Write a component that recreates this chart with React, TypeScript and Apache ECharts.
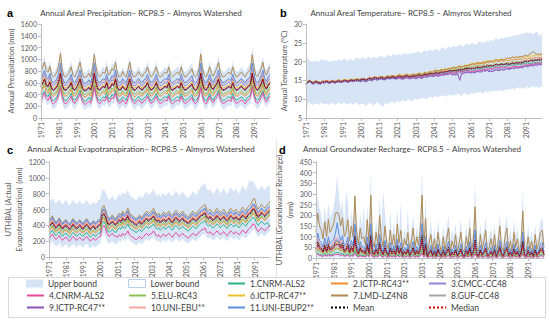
import React, { useEffect, useRef } from "react";
import * as echarts from "echarts";

// ---------- categories ----------
const YEARS: string[] = [];
for (let y = 1971; y <= 2100; y++) YEARS.push(String(y));

const MODEL_NAMES = [
  "1.CNRM-ALS2", "2.ICTP-RC43**", "3.CMCC-CC48", "4.CNRM-AL52", "5.ELU-RC43",
  "6.ICTP-RC47**", "7.LMD-LZ4N8", "8.GUF-CC48", "9.ICTP-RC47**", "10.UNI-EBU**", "11.UNI-EBUP2**",
];

// ---------- (a) precipitation, mm ----------
const PRECIP_UPPER = [
  880,960,1060,900,860,980,820,780,800,880, 990,1210,900,800,770,830,880,960,810,790,
  840,930,1050,870,790,760,800,850,780,930, 1190,960,810,770,830,870,840,970,810,840,
  930,900,1040,840,780,800,870,810,790,900, 1050,860,800,780,820,880,810,770,850,870,
  960,840,790,810,880,960,820,780,800,840, 870,840,950,810,790,820,840,880,820,960,
  840,780,800,840,880,930,810,790,820,930, 1200,930,820,780,840,970,840,800,870,930,
  1060,870,800,780,810,850,870,830,960,840, 790,800,840,870,820,780,840,880,930,1210,
  960,810,790,840,930,1040,870,820,900,950,
];
const PRECIP_LOWER = [
  220,270,330,240,210,290,180,150,170,220, 300,420,240,160,150,190,220,280,170,150,
  200,260,340,220,150,140,170,200,150,260, 420,280,170,150,190,220,200,280,180,190,
  260,240,340,200,150,170,220,180,150,240, 340,220,170,140,190,220,170,150,200,220,
  280,200,150,180,220,280,190,150,170,200, 220,200,280,170,140,180,200,220,190,280,
  200,150,170,200,220,260,180,150,180,260, 410,260,180,150,200,280,200,170,220,260,
  340,220,170,140,180,200,220,190,280,200, 150,170,200,220,180,150,200,220,260,420,
  280,180,150,200,260,340,220,180,240,280,
];
const PRECIP_M1 = [
  360,420,460,380,370,430,320,290,320,360, 440,550,380,310,290,330,370,420,320,300,
  340,400,470,350,300,280,310,350,300,400, 560,410,320,290,330,360,340,430,320,340,
  400,370,470,340,290,310,360,330,300,380, 470,350,310,290,330,370,320,300,340,360,
  420,340,290,320,360,420,330,300,310,350, 360,340,410,320,290,320,340,370,330,420,
  340,300,310,340,360,400,310,300,320,390, 550,400,320,290,340,420,340,300,360,400,
  470,360,310,290,320,350,360,330,420,340, 300,320,340,360,320,290,340,360,400,560,
  410,320,300,340,400,470,360,320,380,420,
];
const PRECIP_M2 = [
  430,500,550,450,420,500,390,370,400,430, 510,640,450,380,370,400,430,490,390,370,
  410,470,560,430,370,360,380,410,370,470, 650,490,390,370,400,440,410,490,390,410,
  470,450,540,410,370,380,430,390,370,450, 550,430,380,360,400,430,390,370,420,430,
  490,410,370,390,430,500,400,370,380,410, 430,410,490,390,360,390,410,440,400,490,
  410,370,380,410,430,470,390,370,390,470, 640,470,390,370,410,490,410,380,430,470,
  550,430,380,370,390,410,430,400,490,410, 370,380,410,430,390,370,410,430,470,650,
  490,390,370,410,470,550,430,390,450,490,
];
const PRECIP_M3 = [
  620,670,740,630,600,690,570,550,580,610, 700,830,630,560,550,590,610,680,570,550,
  590,660,730,610,550,540,570,590,550,650, 820,670,570,550,590,610,590,680,570,600,
  650,630,740,590,550,560,610,580,550,630, 740,610,560,550,580,620,570,550,590,610,
  670,590,550,570,610,680,580,550,560,590, 610,590,670,570,550,580,590,620,580,670,
  590,550,560,590,610,650,570,550,570,660, 840,650,570,550,590,670,590,560,610,650,
  730,610,560,550,570,600,610,580,670,590, 550,560,590,620,570,550,590,610,650,830,
  670,570,550,590,650,730,610,570,630,670,
];
const PRECIP_M4 = [
  310,360,430,330,300,380,270,240,270,310, 390,520,330,260,240,280,310,370,270,250,
  290,350,420,310,250,230,260,290,250,350, 530,370,270,240,280,310,290,370,270,290,
  350,330,430,290,250,260,310,270,240,330, 430,310,260,250,280,310,270,250,290,310,
  370,290,250,270,310,370,280,250,260,290, 310,290,370,270,240,270,290,310,280,370,
  290,250,260,290,310,350,270,250,270,350, 520,350,270,240,290,370,290,260,310,350,
  430,310,260,250,270,290,310,280,370,290, 250,260,290,310,270,240,290,310,350,530,
  370,270,250,290,350,430,310,270,330,370,
];
const PRECIP_M5 = [
  470,530,600,490,470,540,430,410,430,470, 550,690,490,420,410,440,470,530,430,410,
  450,510,590,470,410,400,420,450,410,510, 690,530,430,410,440,470,450,530,430,450,
  510,490,590,450,410,420,470,430,410,490, 590,470,420,410,440,470,430,410,450,470,
  530,450,410,430,470,530,440,410,420,450, 470,450,530,430,410,430,450,470,440,530,
  450,410,420,450,470,510,430,410,430,510, 690,510,430,410,450,530,450,420,470,510,
  590,470,420,410,430,450,470,440,530,450, 410,420,450,470,430,410,450,470,510,690,
  530,430,410,450,510,590,470,430,490,530,
];
const PRECIP_M6 = [
  570,640,690,590,560,640,530,510,540,570, 650,790,590,520,510,540,570,630,530,510,
  550,610,690,570,510,500,520,550,510,610, 790,630,530,510,540,570,550,630,530,550,
  610,590,690,550,510,520,570,530,510,590, 690,570,520,510,540,570,530,510,550,570,
  630,550,510,530,570,630,540,510,520,550, 570,550,630,530,510,530,550,570,540,630,
  550,510,520,550,570,610,530,510,530,610, 790,610,530,510,550,630,550,520,570,610,
  690,570,520,510,530,550,570,540,630,550, 510,520,550,570,530,510,550,570,610,790,
  630,530,510,550,610,690,570,530,590,630,
];
const PRECIP_M7 = [
  780,870,950,810,780,880,730,700,730,790, 900,1100,810,710,700,740,780,870,730,700,
  760,840,950,780,700,690,710,760,700,840, 1080,870,730,700,740,780,760,870,730,760,
  840,810,950,760,700,710,790,730,700,810, 950,780,710,700,740,790,730,700,760,780,
  870,760,700,730,790,870,740,700,710,760, 780,760,870,730,700,730,760,780,740,870,
  760,700,710,760,780,840,730,700,730,840, 1090,840,730,700,760,870,760,710,780,840,
  950,780,710,700,730,760,780,740,870,760, 700,710,760,780,730,700,760,790,840,1080,
  870,730,700,760,840,950,780,730,810,870,
];
const PRECIP_M8 = [
  520,580,640,540,520,590,480,460,480,520, 600,740,540,470,460,490,520,580,480,460,
  500,560,640,520,460,450,470,500,460,560, 740,580,480,460,490,520,500,580,480,500,
  560,540,640,500,460,470,520,480,460,540, 640,520,470,460,490,520,480,460,500,520,
  580,500,460,480,520,580,490,460,470,500, 520,500,580,480,460,480,500,520,490,580,
  500,460,470,500,520,560,480,460,480,560, 740,560,480,460,500,580,500,470,520,560,
  640,520,470,460,480,500,520,490,580,500, 460,470,500,520,480,460,500,520,560,740,
  580,480,460,500,560,640,520,480,540,580,
];
const PRECIP_M9 = [
  540,600,660,560,540,610,500,480,500,540, 620,760,560,490,480,510,540,600,500,480,
  520,580,660,540,480,470,490,520,480,580, 760,600,500,480,510,540,520,600,500,520,
  580,560,660,520,480,490,540,500,480,560, 660,540,490,480,510,540,500,480,520,540,
  600,520,480,500,540,600,510,480,490,520, 540,520,600,500,480,500,520,540,510,600,
  520,480,490,520,540,580,500,480,500,580, 760,580,500,480,520,600,520,490,540,580,
  660,540,490,480,500,520,540,510,600,520, 480,490,520,540,500,480,520,540,580,760,
  600,500,480,520,580,660,540,500,560,600,
];
const PRECIP_M10 = [
  650,710,770,670,650,720,610,590,610,650, 730,870,670,600,590,620,650,710,610,590,
  630,690,770,650,590,580,600,630,590,690, 870,710,610,590,620,650,630,710,610,630,
  690,670,770,630,590,600,650,610,590,670, 770,650,600,590,620,650,610,590,630,650,
  710,630,590,610,650,710,620,590,600,630, 650,630,710,610,590,610,630,650,620,710,
  630,590,600,630,650,690,610,590,610,690, 870,690,610,590,630,710,630,600,650,690,
  770,650,600,590,610,630,650,620,710,630, 590,600,630,650,610,590,630,650,690,870,
  710,610,590,630,690,770,650,610,670,710,
];
const PRECIP_M11 = [
  670,745,815,695,670,755,625,600,625,670, 770,935,695,610,600,635,670,745,625,600,
  650,720,815,670,600,590,610,650,600,720, 935,745,625,600,635,670,650,745,625,650,
  720,695,815,650,600,610,670,625,600,695, 815,670,610,600,635,670,625,600,650,670,
  745,650,600,625,670,745,635,600,610,650, 670,650,745,625,600,625,650,670,635,745,
  650,600,610,650,670,720,625,600,625,720, 935,720,625,600,650,745,650,610,670,720,
  815,670,610,600,625,650,670,635,745,650, 600,610,650,670,625,600,650,670,720,935,
  745,625,600,650,720,815,670,625,695,745,
];

// ---------- (b) temperature, °C ----------
const TEMP_UPPER = [
  20.4,20.8,20.2,20.0,19.8,20.3,20.1,19.9,20.4,20.6, 20.2,20.5,20.1,19.9,20.3,20.0,20.4,20.2,20.6,20.3,
  20.5,20.9,20.4,20.2,20.7,20.5,20.3,20.8,21.0,20.6, 20.8,21.2,20.9,20.7,21.3,21.0,20.8,21.4,21.1,20.9,
  21.3,21.6,21.2,21.0,21.5,21.8,21.4,21.7,22.0,21.6, 21.8,22.1,21.7,21.9,22.3,22.0,21.8,22.4,22.1,22.5,
  22.3,22.7,22.4,22.2,22.8,23.0,22.6,22.9,23.2,22.8, 23.0,23.4,23.1,22.9,23.5,23.8,23.3,23.6,24.0,23.7,
  23.9,24.3,23.8,24.1,24.6,24.2,24.0,24.5,24.8,24.4, 24.6,25.0,24.7,24.5,25.1,25.4,24.9,25.3,25.0,25.6,
  25.2,25.8,25.4,25.9,26.2,25.8,26.0,26.4,26.1,26.6, 26.3,26.8,26.5,27.0,26.7,27.2,26.9,27.5,27.2,27.7,
  27.4,27.9,27.5,27.8,27.2,27.6,28.0,27.4,26.8,27.7,
];
const TEMP_LOWER = [
  5.5,8.8,9.2,8.6,8.4,9.0,8.7,8.5,9.1,8.8, 8.6,9.0,8.4,8.8,9.2,8.7,8.5,8.9,9.1,8.6,
  8.8,9.2,8.7,8.5,9.0,8.8,8.6,9.1,8.9,8.4, 8.7,9.0,8.5,8.2,8.8,9.1,8.6,8.3,8.9,9.2,
  8.8,8.3,8.0,8.6,9.0,8.7,9.1,9.4,8.9,9.2, 9.5,9.1,9.4,9.8,9.3,9.6,10.0,9.7,9.4,9.9,
  10.1,9.8,10.3,10.0,10.5,10.2,9.9,10.4,10.7,10.3, 10.6,10.9,10.4,10.8,11.1,10.7,11.0,10.6,11.2,10.9,
  11.0,11.3,10.9,11.5,11.2,10.8,11.4,11.7,11.3,11.0, 11.5,11.8,11.3,11.9,11.6,12.0,11.7,11.4,12.1,11.8,
  12.0,12.3,11.9,12.4,12.1,12.6,12.2,12.5,12.0,12.7, 12.4,12.8,12.5,13.0,12.6,12.9,13.2,12.8,13.1,12.7,
  13.0,13.3,12.9,13.2,13.5,13.1,13.4,13.0,13.3,13.5,
];
const TEMP_M1 = [
  14.0,14.3,14.9,14.6,14.1,14.5,14.7,14.2,14.4,14.5, 14.6,14.7,14.4,14.6,14.9,14.5,14.6,14.7,15.0,14.5,
  14.6,15.0,14.7,14.8,14.8,15.1,14.7,15.0,15.1,14.9, 14.8,15.2,15.0,14.7,15.2,15.4,15.0,15.3,15.6,15.2,
  15.7,15.6,15.7,15.4,15.9,15.8,15.6,16.1,15.8,15.8, 15.7,16.1,15.7,15.8,15.8,16.2,15.8,15.9,15.9,16.1,
  15.8,16.1,16.2,15.8,16.2,16.3,16.3,16.4,16.5,16.5, 16.6,17.0,16.6,16.8,17.0,16.9,17.1,17.2,17.2,17.4,
  17.0,17.3,17.0,17.2,17.6,17.3,17.4,17.7,17.6,17.7, 17.8,17.8,17.7,18.1,18.1,18.1,18.0,18.4,18.3,18.4,
  18.2,18.5,18.1,18.5,18.8,18.4,18.6,18.9,18.5,18.8, 19.0,18.8,19.1,19.1,19.0,19.2,19.2,19.4,19.1,19.6,
  19.5,19.3,19.6,19.6,19.5,19.9,19.6,19.9,19.8,20.0,
];
const TEMP_M2 = [
  14.3,14.5,15.1,14.4,14.5,14.6,14.8,14.3,14.5,14.6, 14.8,14.9,14.9,14.5,15.1,14.8,14.8,15.0,15.2,14.7,
  15.0,15.1,15.0,14.8,15.2,15.1,15.1,15.2,15.3,15.2, 15.5,15.5,15.6,15.2,15.7,15.9,15.5,16.0,15.9,15.8,
  15.8,16.1,15.7,15.8,15.9,16.2,15.9,16.1,16.2,15.8, 16.4,16.4,16.3,16.1,16.5,16.6,16.3,16.4,16.4,16.7,
  16.4,16.8,16.8,16.6,16.8,17.2,16.8,17.2,17.2,17.1, 17.5,17.5,17.4,17.6,17.7,17.7,17.8,17.9,17.9,18.2,
  18.3,18.3,18.2,18.6,18.7,18.4,18.7,18.9,18.7,19.1, 19.0,19.3,19.0,19.4,19.4,19.3,19.5,19.6,19.5,19.9,
  19.6,20.0,19.7,20.0,20.1,20.1,20.0,20.4,20.0,20.3, 20.4,20.2,20.5,20.5,20.5,20.6,20.6,20.8,20.5,21.0,
  20.8,20.6,20.9,21.0,20.7,21.2,20.9,21.2,21.0,21.3,
];
const TEMP_M3 = [
  13.9,14.5,14.6,14.3,14.0,14.6,14.3,14.3,14.0,14.4, 14.4,14.6,14.6,14.2,14.7,14.5,14.5,14.6,14.7,14.6,
  14.5,14.7,14.6,14.4,14.7,14.7,14.7,14.8,14.8,14.8, 14.8,15.2,14.9,14.9,15.2,15.3,15.0,15.5,15.4,15.3,
  15.2,15.4,15.2,15.1,15.4,15.4,15.4,15.5,15.5,15.3, 15.7,15.7,15.5,15.6,15.6,16.0,15.6,15.7,15.7,15.9,
  15.5,15.7,15.9,15.6,15.8,16.1,15.9,16.1,16.3,16.1, 16.2,16.4,16.2,16.4,16.5,16.4,16.6,16.7,16.7,16.9,
  16.6,16.7,16.7,16.8,17.1,16.9,17.0,17.2,17.3,17.3, 17.1,17.3,17.2,17.4,17.5,17.5,17.4,17.8,17.6,17.9,
  17.6,17.8,17.6,17.9,18.1,17.9,18.0,18.1,18.0,18.3, 18.2,18.1,18.2,18.4,18.3,18.5,18.3,18.6,18.5,18.7,
  19.0,18.8,19.0,19.2,19.0,19.3,19.2,19.4,19.3,19.6,
];
const TEMP_M4 = [
  14.2,14.4,14.8,14.7,14.2,14.9,14.4,14.5,14.2,14.6, 14.2,14.7,14.3,14.3,14.5,14.6,14.2,14.7,14.6,14.5,
  14.8,14.9,14.7,14.6,14.9,15.0,14.8,15.0,15.1,14.9, 15.2,15.3,15.1,15.1,15.4,15.4,15.3,15.6,15.6,15.5,
  15.3,15.7,15.4,15.3,15.6,15.7,15.6,15.8,15.6,15.6, 15.7,15.8,15.6,15.6,15.7,15.9,15.7,15.7,15.8,15.9,
  15.9,16.0,16.3,15.8,16.1,16.4,16.2,16.3,16.6,16.4, 16.4,16.6,16.5,16.5,16.8,16.6,16.9,16.8,17.0,17.1,
  16.9,17.1,16.9,17.3,17.4,17.2,17.3,17.6,17.5,17.7, 17.3,17.5,17.4,17.6,17.8,17.7,17.7,18.0,17.8,18.1,
  18.0,18.2,18.0,18.3,18.5,18.3,18.4,18.6,18.4,18.6, 18.5,18.3,18.5,18.7,18.6,18.8,18.6,18.9,18.7,19.0,
  19.2,19.0,19.2,19.4,19.2,19.5,19.4,19.6,19.5,19.7,
];
const TEMP_M5 = [
  14.2,14.7,15.0,14.6,14.4,14.8,14.7,14.5,14.5,14.8, 14.5,14.8,14.7,14.4,14.9,14.6,14.6,14.8,14.9,14.7,
  15.0,15.2,15.1,14.9,15.2,15.3,15.1,15.3,15.4,15.2, 15.2,15.4,15.3,15.1,15.5,15.6,15.4,15.7,15.8,15.5,
  15.9,16.1,15.9,15.8,16.1,16.2,16.0,16.3,16.2,16.0, 16.1,16.3,16.1,16.0,16.2,16.4,16.2,16.1,16.3,16.4,
  16.3,16.5,16.7,16.4,16.6,16.9,16.7,16.9,17.1,16.9, 17.2,17.4,17.2,17.3,17.6,17.4,17.7,17.6,17.8,17.9,
  17.8,18.0,17.8,18.1,18.3,18.1,18.2,18.5,18.4,18.6, 18.5,18.7,18.6,18.8,19.0,18.8,18.9,19.2,19.0,19.3,
  19.0,19.2,19.0,19.3,19.5,19.3,19.4,19.6,19.4,19.6, 19.8,19.6,19.8,20.0,19.8,20.1,19.9,20.2,20.0,20.3,
  20.3,20.1,20.3,20.5,20.3,20.6,20.5,20.7,20.6,20.8,
];
const TEMP_M6 = [
  14.3,14.8,15.1,14.7,14.5,14.9,14.8,14.6,14.5,14.9, 14.6,14.9,14.7,14.5,14.9,14.8,14.6,14.9,15.0,14.7,
  15.1,15.3,15.2,15.0,15.3,15.4,15.2,15.4,15.5,15.3, 15.3,15.5,15.4,15.2,15.6,15.7,15.5,15.8,15.9,15.6,
  15.9,16.1,15.9,15.8,16.1,16.2,16.0,16.3,16.2,16.0, 16.4,16.6,16.4,16.3,16.5,16.7,16.5,16.4,16.6,16.7,
  16.6,16.8,17.0,16.7,16.9,17.2,17.0,17.2,17.4,17.2, 17.6,17.8,17.6,17.7,18.0,17.8,18.1,18.0,18.2,18.3,
  18.4,18.6,18.4,18.7,18.9,18.7,18.8,19.1,19.0,19.2, 19.4,19.6,19.5,19.7,19.9,19.7,19.8,20.1,19.9,20.2,
  20.1,20.3,20.1,20.4,20.6,20.4,20.5,20.7,20.5,20.7, 21.0,20.8,21.0,21.2,21.0,21.3,21.1,21.4,21.2,21.5,
  21.4,21.2,21.4,21.6,21.4,21.7,21.6,21.8,21.7,21.9,
];
const TEMP_M7 = [
  14.2,14.8,15.0,14.7,14.4,14.9,14.7,14.6,14.4,14.9, 14.7,15.0,14.8,14.6,15.0,14.9,14.7,15.0,15.1,14.8,
  14.9,15.1,15.0,14.8,15.1,15.2,15.0,15.2,15.3,15.1, 15.3,15.5,15.4,15.2,15.6,15.7,15.5,15.8,15.9,15.6,
  15.9,16.1,15.9,15.8,16.1,16.2,16.0,16.3,16.2,16.0, 16.3,16.5,16.3,16.2,16.4,16.6,16.4,16.3,16.5,16.6,
  16.5,16.7,16.9,16.6,16.8,17.1,16.9,17.1,17.3,17.1, 17.5,17.7,17.5,17.6,17.9,17.7,18.0,17.9,18.1,18.2,
  18.3,18.5,18.3,18.6,18.8,18.6,18.7,19.0,18.9,19.1, 19.2,19.4,19.3,19.5,19.7,19.5,19.6,19.9,19.7,20.0,
  20.0,20.2,20.0,20.3,20.5,20.3,20.4,20.6,20.4,20.6, 21.0,20.8,21.0,21.2,21.0,21.3,21.1,21.4,21.2,21.5,
  21.7,21.5,21.9,22.2,22.7,22.3,21.9,22.1,21.8,22.2,
];
const TEMP_M8 = [
  14.0,14.5,14.9,14.4,14.2,14.6,14.5,14.3,14.2,14.6, 14.6,14.8,14.7,14.4,14.8,14.6,14.5,14.9,14.9,14.7,
  14.9,15.1,15.0,14.8,15.1,15.2,15.0,15.2,15.3,15.1, 15.0,15.4,15.1,15.0,15.3,15.5,15.2,15.6,15.6,15.4,
  15.5,15.8,15.6,15.4,15.8,15.8,15.7,15.9,15.9,15.6, 16.0,16.2,16.0,15.9,16.1,16.3,16.1,16.0,16.2,16.3,
  15.9,16.2,16.3,16.1,16.2,16.6,16.3,16.6,16.7,16.6, 16.9,17.1,16.9,17.0,17.3,17.1,17.4,17.3,17.5,17.6,
  17.2,17.5,17.2,17.6,17.7,17.6,17.6,18.0,17.8,18.1, 18.0,18.2,18.1,18.3,18.5,18.3,18.4,18.7,18.5,18.8,
  18.7,18.9,18.7,19.0,19.2,19.0,19.1,19.3,19.1,19.3, 19.2,19.0,19.2,19.4,19.2,19.5,19.3,19.6,19.4,19.7,
  19.9,19.7,19.9,20.1,19.9,20.2,20.1,20.3,20.2,20.4,
];
const TEMP_M9 = [
  13.8,14.4,14.7,14.2,14.0,14.4,14.3,14.1,14.0,14.4, 14.3,14.6,14.4,14.2,14.6,14.5,14.3,14.6,14.7,14.4,
  14.6,14.8,14.7,14.5,14.8,14.9,14.7,14.9,15.0,14.8, 14.7,14.9,14.8,14.6,15.0,15.1,14.9,15.2,15.3,15.0,
  15.3,15.5,15.3,15.2,15.5,15.6,15.4,15.7,15.6,15.4, 15.4,15.6,15.4,15.3,15.5,15.7,15.5,15.4,15.6,15.7,
  15.4,15.6,15.8,15.5,15.7,16.0,15.8,16.0,16.2,16.0, 16.1,16.3,16.1,16.2,16.5,16.3,16.6,16.5,16.7,16.8,
  16.4,16.6,16.4,16.7,15.0,16.7,16.8,17.1,17.0,17.2, 16.9,17.1,17.0,17.2,17.4,17.2,17.3,17.6,17.4,17.7,
  17.3,17.5,17.3,17.6,17.8,17.6,17.7,17.9,17.7,17.9, 18.1,17.9,18.1,18.3,18.1,18.4,18.2,18.5,18.3,18.6,
  18.8,18.6,18.8,19.0,18.8,19.1,19.0,19.2,19.1,19.3,
];
const TEMP_M10 = [
  14.2,14.5,15.0,14.6,14.2,14.8,14.5,14.5,14.4,14.6, 14.6,14.9,14.7,14.5,14.9,14.8,14.6,14.9,15.0,14.7,
  14.7,15.1,14.8,14.8,14.9,15.2,14.9,15.0,15.3,15.0, 15.3,15.5,15.4,15.2,15.6,15.7,15.5,15.8,15.9,15.6,
  15.7,15.9,15.7,15.6,15.9,16.0,15.8,16.1,16.0,15.8, 16.1,16.3,16.1,16.0,16.2,16.4,16.2,16.1,16.3,16.4,
  16.1,16.3,16.5,16.2,16.4,16.7,16.5,16.7,16.9,16.7, 17.1,17.3,17.1,17.2,17.5,17.3,17.6,17.5,17.7,17.8,
  17.5,17.7,17.5,17.8,18.0,17.8,17.9,18.2,18.1,18.3, 18.3,18.5,18.4,18.6,18.8,18.6,18.7,19.0,18.8,19.1,
  18.8,19.0,18.8,19.1,19.3,19.1,19.2,19.4,19.2,19.4, 19.6,19.4,19.6,19.8,19.6,19.9,19.7,20.0,19.8,20.1,
  20.3,20.1,20.3,20.5,20.3,20.6,20.5,20.7,20.6,20.8,
];
const TEMP_M11 = [
  14.1,14.6,14.8,14.6,14.3,14.6,14.7,14.4,14.2,14.7, 14.4,14.7,14.5,14.3,14.7,14.6,14.4,14.7,14.8,14.5,
  14.8,15.0,14.9,14.7,15.0,15.1,14.9,15.1,15.2,15.0, 15.2,15.4,15.3,15.1,15.5,15.6,15.4,15.7,15.8,15.5,
  15.5,15.7,15.5,15.4,15.7,15.8,15.6,15.9,15.8,15.6, 15.9,16.1,15.9,15.8,16.0,16.2,16.0,15.9,16.1,16.2,
  16.1,16.3,16.5,16.2,16.4,16.7,16.5,16.7,16.9,16.7, 16.8,17.0,16.8,16.9,17.2,17.0,17.3,17.2,17.4,17.5,
  17.5,17.7,17.5,17.8,18.0,17.8,17.9,18.2,18.1,18.3, 18.0,18.2,18.1,18.3,18.5,18.3,18.4,18.7,18.5,18.8,
  18.8,19.0,18.8,19.1,19.3,19.1,19.2,19.4,19.2,19.4, 19.4,19.2,19.4,19.6,19.4,19.7,19.5,19.8,19.6,19.9,
  20.2,20.0,20.2,20.4,20.2,20.5,20.4,20.6,20.5,20.7,
];

// ---------- (c) actual evapotranspiration, mm ----------
const ET_UPPER = [
  690,720,740,700,680,700,730,690,660,700, 720,680,650,690,720,700,660,690,710,680,
  660,700,720,690,650,680,700,670,690,720, 740,840,850,820,760,720,740,770,730,720,
  760,800,770,820,790,810,850,790,760,750, 730,720,750,780,740,760,800,830,780,810,
  820,860,810,770,800,760,790,810,770,800, 820,790,760,800,840,810,770,800,830,790,
  770,750,760,800,830,800,790,830,860,900, 910,940,870,830,860,820,800,830,880,850,
  800,830,870,820,790,830,880,850,820,870, 830,800,850,900,870,830,900,980,950,960,
  930,880,840,860,900,870,850,880,900,880,
];
const ET_LOWER = [
  140,170,200,160,130,150,180,140,120,150, 160,130,110,140,170,150,120,140,160,130,
  120,150,170,140,110,130,150,120,140,160, 170,270,300,260,190,160,180,200,170,160,
  180,210,190,230,200,220,260,210,190,180, 160,150,170,190,160,180,210,230,200,220,
  230,260,220,190,210,180,200,220,190,210, 230,200,180,210,240,220,190,210,230,200,
  190,170,180,210,230,210,200,230,250,270, 280,300,250,230,250,220,210,230,260,240,
  210,230,250,220,200,230,260,240,220,250, 230,210,240,270,250,230,270,290,310,350,
  340,290,250,270,300,280,260,290,310,330,
];
const ET_M1 = [
  280,310,340,300,270,290,320,280,260,290, 300,270,250,280,310,290,260,280,300,270,
  260,290,310,280,250,270,290,260,280,300, 310,420,450,410,340,310,330,350,320,310,
  340,370,350,390,360,380,420,370,350,340, 320,310,330,350,320,340,370,390,360,380,
  390,420,380,350,370,340,360,380,350,370, 390,360,340,370,400,380,350,370,390,360,
  350,330,340,370,390,370,360,390,410,430, 440,460,410,390,410,380,370,390,420,400,
  370,390,410,380,360,390,420,400,380,410, 390,370,400,430,410,390,430,450,470,500,
  490,440,400,420,450,430,410,430,420,380,
];
const ET_M2 = [
  320,350,380,340,310,330,360,320,300,330, 340,310,290,320,350,330,300,320,340,310,
  300,330,350,320,290,310,330,300,320,340, 350,460,490,450,380,350,370,390,360,350,
  380,410,390,430,400,420,460,410,390,380, 360,350,370,390,360,380,410,430,400,420,
  430,460,420,390,410,380,400,420,390,410, 430,400,380,410,440,420,390,410,430,400,
  390,370,380,410,430,410,400,430,450,470, 480,500,450,430,450,420,410,430,460,440,
  410,430,450,420,400,430,460,440,420,450, 430,410,440,470,450,430,470,490,510,550,
  540,490,450,470,500,480,460,490,510,530,
];
const ET_M3 = [
  425,455,485,445,415,435,465,425,405,435, 445,415,395,425,455,435,405,425,445,415,
  405,435,455,425,395,415,435,405,425,445, 455,565,595,555,485,455,475,495,465,455,
  485,515,495,535,505,525,565,515,495,485, 465,455,475,495,465,485,515,535,505,525,
  535,565,525,495,515,485,505,525,495,515, 535,505,485,515,545,525,495,515,535,505,
  495,475,485,515,535,515,505,535,555,575, 585,605,555,535,555,525,515,535,565,545,
  515,535,555,525,505,535,565,545,525,555, 535,515,545,575,555,535,575,595,615,655,
  645,595,555,575,605,585,565,595,615,635,
];
const ET_M4 = [
  230,260,290,250,220,240,270,230,210,240, 250,220,200,230,260,240,210,230,250,220,
  210,240,260,230,200,220,240,210,230,250, 260,370,400,360,290,260,280,300,270,260,
  250,280,260,300,270,290,330,280,260,250, 230,220,240,260,230,250,280,300,270,290,
  300,330,290,260,280,250,270,290,260,280, 300,270,250,280,310,290,260,280,300,270,
  260,240,250,280,300,280,270,300,320,340, 350,370,320,300,320,290,280,300,330,310,
  280,300,320,290,270,300,330,310,290,320, 300,280,310,340,320,300,340,360,380,420,
  410,360,320,340,370,350,330,360,380,400,
];
const ET_M5 = [
  340,370,400,360,330,350,380,340,320,350, 360,330,310,340,370,350,320,340,360,330,
  320,350,370,340,310,330,350,320,340,360, 370,480,510,470,400,370,390,410,380,370,
  400,430,410,450,420,440,480,430,410,400, 380,370,390,410,380,400,430,450,420,440,
  450,480,440,410,430,400,420,440,410,430, 450,420,400,430,460,440,410,430,450,420,
  410,390,400,430,450,430,420,450,470,490, 500,520,470,450,470,440,430,450,480,460,
  430,450,470,440,420,450,480,460,440,470, 450,430,460,490,470,450,490,510,530,570,
  560,510,470,490,520,500,480,510,530,550,
];
const ET_M6 = [
  395,425,455,415,385,405,435,395,375,405, 415,385,365,395,425,405,375,395,415,385,
  375,405,425,395,365,385,405,375,395,415, 425,535,565,525,455,425,445,465,435,425,
  455,485,465,505,475,495,535,485,465,455, 435,425,445,465,435,455,485,505,475,495,
  505,535,495,465,485,455,475,495,465,485, 505,475,455,485,515,495,465,485,505,475,
  465,445,455,485,505,485,475,505,525,545, 555,575,525,505,525,495,485,505,535,515,
  485,505,525,495,475,505,535,515,495,525, 505,485,515,545,525,505,545,565,585,625,
  615,565,525,545,575,555,535,565,585,605,
];
const ET_M7 = [
  450,485,520,470,435,460,495,450,425,460, 470,435,410,450,485,460,425,450,470,435,
  425,460,485,450,410,435,460,425,450,470, 485,615,650,605,520,485,510,530,495,485,
  520,555,530,580,545,570,615,555,530,520, 495,485,510,530,495,520,555,580,545,570,
  580,615,570,530,555,520,545,570,530,555, 580,545,520,555,590,570,530,555,580,545,
  530,510,520,555,580,555,545,580,605,630, 640,665,605,580,605,570,555,580,615,590,
  555,580,605,570,545,580,615,590,570,605, 580,555,590,630,605,580,630,650,675,725,
  740,650,605,630,665,640,615,650,675,700,
];
const ET_M8 = [
  375,405,435,395,365,385,415,375,355,385, 395,365,345,375,405,385,355,375,395,365,
  355,385,405,375,345,365,385,355,375,395, 405,515,545,505,435,405,425,445,415,405,
  435,465,445,485,455,475,515,465,445,435, 415,405,425,445,415,435,465,485,455,475,
  485,515,475,445,465,435,455,475,445,465, 485,455,435,465,495,475,445,465,485,455,
  445,425,435,465,485,465,455,485,505,525, 535,555,505,485,505,475,465,485,515,495,
  465,485,505,475,455,485,515,495,475,505, 485,465,495,525,505,485,525,545,565,605,
  595,545,505,525,555,535,515,545,565,585,
];
const ET_M9 = [
  385,420,440,410,370,400,425,390,360,395, 405,375,360,380,420,390,365,385,410,370,
  365,395,415,390,355,375,395,360,385,405, 415,525,550,515,445,410,430,455,420,415,
  445,475,450,495,465,480,525,470,455,445, 425,410,435,455,420,445,475,490,465,480,
  495,520,485,455,470,445,465,480,455,470, 495,465,440,475,500,485,455,470,495,460,
  455,430,445,470,495,470,465,490,515,530, 545,560,515,490,515,480,475,490,525,500,
  475,490,515,480,465,490,525,500,485,510, 495,470,505,530,515,490,535,550,575,610,
  605,550,515,530,565,540,525,550,575,590,
];
const ET_M10 = [
  410,440,470,430,400,420,450,410,390,420, 430,400,380,410,440,420,390,410,430,400,
  390,420,440,410,380,400,420,390,410,430, 440,550,580,540,470,440,460,480,450,440,
  470,500,480,520,490,510,550,500,480,470, 450,440,460,480,450,470,500,520,490,510,
  520,550,510,480,500,470,490,510,480,500, 520,490,470,500,530,510,480,500,520,490,
  480,460,470,500,520,500,490,520,540,560, 570,590,540,520,540,510,500,520,550,530,
  500,520,540,510,490,520,550,530,510,540, 520,500,530,560,540,520,560,580,600,640,
  630,580,540,560,590,570,550,580,600,620,
];
const ET_M11 = [
  440,470,500,460,430,450,480,440,420,450, 460,430,410,440,470,450,420,440,460,430,
  420,450,470,440,410,430,450,420,440,460, 470,580,610,570,500,470,490,510,480,470,
  500,530,510,550,520,540,580,530,510,500, 480,470,490,510,480,500,530,550,520,540,
  550,580,540,510,530,500,520,540,510,530, 550,520,500,530,560,540,510,530,550,520,
  510,490,500,530,550,530,520,550,570,590, 600,620,570,550,570,540,530,550,580,560,
  530,550,570,540,520,550,580,560,540,570, 550,530,560,590,570,550,590,610,630,670,
  660,610,570,590,620,600,580,610,630,650,
];

// ---------- (d) groundwater recharge, mm ----------
const GW_UPPER = [
  200,290,230,200,150,250,160,260,190,210, 240,300,390,290,220,270,150,320,260,130,
  220,150,320,180,100,210,140,250,100,250, 110,405,120,90,180,100,280,140,320,210,
  110,70,220,100,170,90,230,110,265,70, 140,100,230,70,130,200,80,150,100,190,
  405,100,290,70,110,170,80,140,70,180, 100,70,150,80,140,200,70,130,100,160,
  70,110,180,80,70,150,100,200,80,130, 355,100,70,160,80,130,190,70,100,140,
  80,160,70,110,210,100,70,150,200,80, 130,70,180,100,140,70,110,315,100,70,
  150,80,130,70,160,80,110,170,190,100,
];
const GW_LOWER = [
  2,3,2,2,1,3,1,2,2,2, 2,3,3,3,2,2,1,2,2,1, 2,1,3,1,0,2,1,1,0,2,
  0,3,1,0,1,0,2,1,0,1, 0,0,1,0,1,0,1,0,1,0, 1,0,1,0,0,1,0,1,0,1,
  3,0,2,0,0,1,0,1,0,1, 0,0,1,0,1,1,0,0,0,1, 0,0,1,0,0,1,0,1,0,0,
  2,0,0,1,0,0,1,0,0,1, 0,1,0,0,1,0,0,1,1,0, 0,0,1,0,1,0,0,2,0,0,
  1,0,0,0,1,0,0,1,1,0,
];
const GW_M1 = [
  14,25,18,16,11,20,12,22,14,17, 19,25,26,24,18,23,12,14,22,10, 18,12,35,14,7,17,11,12,7,22,
  8,35,10,6,14,7,24,11,6,18, 8,5,16,7,13,6,19,8,16,5, 11,7,14,5,10,17,6,12,7,16,
  35,5,22,3,8,13,4,11,4,14, 7,3,12,4,11,17,4,10,5,13, 4,8,14,5,3,12,6,17,4,10,
  29,6,3,13,5,10,16,4,6,11, 5,13,3,8,18,6,4,12,17,4, 10,4,14,6,11,3,8,26,5,4,
  12,5,10,3,13,5,8,14,16,6,
];
const GW_M2 = [
  26,46,33,29,20,37,22,40,26,31, 35,46,47,44,33,42,22,26,40,18, 33,22,64,26,13,31,20,22,13,40,
  15,65,18,11,26,13,44,20,11,33, 15,9,29,13,24,11,35,15,29,9, 20,13,26,9,18,31,11,22,13,29,
  65,10,41,6,15,24,8,20,7,26, 13,6,22,8,20,31,7,18,10,24, 7,15,26,9,6,22,11,31,8,18,
  53,11,6,24,9,18,29,7,11,20, 9,24,6,15,33,11,7,22,31,8, 18,7,26,11,20,6,15,48,10,7,
  22,9,18,6,24,9,15,26,29,11,
];
const GW_M3 = [
  48,84,60,52,36,68,40,72,48,56, 64,84,86,80,60,76,40,48,72,32, 60,40,116,48,24,56,36,40,24,72,
  28,118,32,20,48,24,80,36,20,60, 28,16,52,24,44,20,64,28,52,16, 36,24,48,16,32,56,20,40,24,52,
  118,18,74,10,28,44,14,36,12,48, 24,10,40,14,36,56,12,32,18,44, 12,28,48,16,10,40,20,56,14,32,
  96,20,10,44,16,32,52,12,20,36, 16,44,10,28,60,20,12,40,56,14, 32,12,48,20,36,10,28,88,18,12,
  40,16,32,10,44,16,28,48,52,20,
];
const GW_M4 = [
  10,17,12,10,7,14,8,14,10,11, 13,17,17,16,12,15,8,10,14,6, 12,8,23,10,5,11,7,8,5,14,
  6,24,6,4,10,5,16,7,4,12, 6,3,10,5,9,4,13,6,10,3, 7,5,10,3,6,11,4,8,5,10,
  24,4,15,2,6,9,3,7,2,10, 5,2,8,3,7,11,2,6,4,9, 2,6,10,3,2,8,5,11,3,6,
  19,4,2,9,3,6,10,2,4,7, 3,9,2,6,12,4,2,8,11,3, 6,2,10,4,7,2,6,18,4,2,
  8,3,6,2,9,3,6,10,10,4,
];
const GW_M5 = [
  24,42,30,26,18,34,20,36,24,28, 32,42,43,40,30,38,20,24,36,16, 30,20,58,24,12,28,18,20,12,36,
  14,59,16,10,24,12,40,18,10,30, 14,8,26,12,22,10,32,14,26,8, 18,12,24,8,16,28,10,20,12,26,
  59,9,37,5,14,22,7,18,6,24, 12,5,20,7,18,28,6,16,9,22, 6,14,24,8,5,20,10,28,7,16,
  48,10,5,22,8,16,26,6,10,18, 8,22,5,14,30,10,6,20,28,7, 16,6,24,10,18,5,14,44,9,6,
  20,8,16,5,22,8,14,24,26,10,
];
const GW_M6 = [
  40,69,50,43,30,56,33,59,40,46, 53,69,71,66,50,63,33,40,59,26, 50,33,96,40,20,46,30,33,20,59,
  23,97,26,17,40,20,66,30,17,50, 23,13,43,20,36,17,53,23,43,13, 30,20,40,13,26,46,17,33,20,43,
  97,15,61,8,23,36,12,30,10,40, 20,8,33,12,30,46,10,26,15,36, 10,23,40,13,8,33,17,46,12,26,
  79,17,8,36,13,26,43,10,17,30, 13,36,8,23,50,17,10,33,46,12, 26,10,40,17,30,8,23,73,15,10,
  33,13,26,8,36,13,23,40,43,17,
];
const GW_M7 = [
  120,210,150,130,90,170,100,180,120,140, 160,210,215,200,150,190,100,120,180,80,
  150,100,290,120,60,140,90,100,60,180, 70,295,80,50,120,60,200,90,50,150,
  70,40,130,60,110,50,160,70,130,40, 90,60,120,40,80,140,50,100,60,130,
  295,45,185,25,70,110,35,90,30,120, 60,25,100,35,90,140,30,80,45,110,
  30,70,120,40,25,100,50,140,35,80, 240,50,25,110,40,80,130,30,50,90,
  40,110,25,70,150,50,30,100,140,35, 80,30,120,50,90,25,70,220,45,30,
  100,40,80,25,110,40,70,120,130,50,
];
const GW_M8 = [
  32,57,41,35,24,46,27,49,32,38, 43,57,58,54,41,51,27,32,49,22, 41,27,78,32,16,38,24,27,16,49,
  19,80,22,14,32,16,54,24,14,41, 19,11,35,16,30,14,43,19,35,11, 24,16,32,11,22,38,14,27,16,35,
  80,12,50,7,19,30,9,24,8,32, 16,7,27,9,24,38,8,22,12,30, 8,19,32,11,7,27,14,38,9,22,
  65,14,7,30,11,22,35,8,14,24, 11,30,7,19,41,14,8,27,38,9, 22,8,32,14,24,7,19,59,12,8,
  27,11,22,7,30,11,19,32,35,14,
];
const GW_M9 = [
  36,63,45,39,27,51,30,54,36,42, 48,63,65,60,45,57,30,36,54,24, 45,30,87,36,18,42,27,30,18,54,
  21,89,24,15,36,18,60,27,15,45, 21,12,39,18,33,15,48,21,39,12, 27,18,36,12,24,42,15,30,18,39,
  89,14,56,8,21,33,11,27,9,36, 18,8,30,11,27,42,9,24,14,33, 9,21,36,12,8,30,15,42,11,24,
  72,15,8,33,12,24,39,9,15,27, 12,33,8,21,45,15,9,30,42,11, 24,9,36,15,27,8,21,66,14,9,
  30,12,24,8,33,12,21,36,39,15,
];
const GW_M10 = [
  54,94,68,58,40,76,45,81,54,63, 72,94,97,90,68,86,45,54,81,36, 68,45,130,54,27,63,40,45,27,81,
  32,133,36,22,54,27,90,40,22,68, 32,18,58,27,50,22,72,32,58,18, 40,27,54,18,36,63,22,45,27,58,
  133,20,83,11,32,50,16,40,14,54, 27,11,45,16,40,63,14,36,20,50, 14,32,54,18,11,45,22,63,16,36,
  108,22,11,50,18,36,58,14,22,40, 18,50,11,32,68,22,14,45,63,16, 36,14,54,22,40,11,32,99,20,14,
  45,18,36,11,50,18,32,54,58,22,
];
const GW_M11 = [
  66,116,82,72,50,94,55,99,66,77, 88,116,165,110,82,105,55,66,99,44, 82,55,160,66,33,77,50,55,33,99,
  38,162,44,28,66,33,110,50,28,82, 38,22,72,33,60,28,88,38,72,22, 50,33,66,22,44,77,28,55,33,72,
  162,25,102,14,38,60,19,50,17,66, 33,14,55,19,50,77,17,44,25,60, 17,38,66,22,14,55,28,77,19,44,
  132,28,14,60,22,44,72,17,28,50, 22,60,14,38,82,28,17,55,77,19, 44,17,66,28,50,14,38,121,25,17,
  55,22,44,14,60,22,38,66,72,28,
];

// ---------- styles ----------
const MODEL_COLORS = [
  "#2bb08a", "#f28e2b", "#8f86d8", "#e8489a", "#8cc152", "#f2c12e",
  "#b08a52", "#a6a6a6", "#8e55b8", "#f4a6a0", "#5b8fdc",
];
const BAND_COLOR = "#d6e4f6";
const FONT = 'Lato, "Noto Sans", sans-serif';

const LEGEND_ROWS = [
  ["Upper bound", "Lower bound", "1.CNRM-ALS2", "2.ICTP-RC43**", "3.CMCC-CC48"],
  ["4.CNRM-AL52", "5.ELU-RC43", "6.ICTP-RC47**", "7.LMD-LZ4N8", "8.GUF-CC48"],
  ["9.ICTP-RC47**", "10.UNI-EBU**", "11.UNI-EBUP2**", "Mean", "Median"],
];
const LEGEND_TEXT_X = [48, 150, 249, 352, 450];
const LEGEND_ROW_Y = [285, 297, 309];

function meanOf(arrs: number[][]): number[] {
  return arrs[0].map((_, i) => {
    let s = 0;
    arrs.forEach((a) => (s += a[i]));
    return Math.round((s / arrs.length) * 100) / 100;
  });
}
function medianOf(arrs: number[][]): number[] {
  return arrs[0].map((_, i) => {
    const v = arrs.map((a) => a[i]).sort((x, y) => x - y);
    return v[Math.floor(v.length / 2)];
  });
}

function panelSeries(g: number, up: number[], lo: number[], models: number[][]) {
  const s: any[] = [];
  s.push({
    type: "line", name: "Upper bound", xAxisIndex: g, yAxisIndex: g, data: up,
    symbol: "none", silent: true, z: 1,
    lineStyle: { width: 0, opacity: 0 }, itemStyle: { color: BAND_COLOR },
    areaStyle: { color: BAND_COLOR, opacity: 1, origin: "start" },
  });
  s.push({
    type: "line", name: "Lower bound", xAxisIndex: g, yAxisIndex: g, data: lo,
    symbol: "none", silent: true, z: 1,
    lineStyle: { width: 0, opacity: 0 }, itemStyle: { color: "#ffffff" },
    areaStyle: { color: "#ffffff", opacity: 1, origin: "start" },
  });
  models.forEach((d, k) => {
    s.push({
      type: "line", name: MODEL_NAMES[k], xAxisIndex: g, yAxisIndex: g, data: d,
      symbol: "none", z: 2,
      lineStyle: { width: 1, color: MODEL_COLORS[k] }, itemStyle: { color: MODEL_COLORS[k] },
    });
  });
  s.push({
    type: "line", name: "Mean", xAxisIndex: g, yAxisIndex: g, data: meanOf(models),
    symbol: "none", z: 3, lineStyle: { width: 1, color: "#000000", type: "dotted" },
    itemStyle: { color: "#000000" },
  });
  s.push({
    type: "line", name: "Median", xAxisIndex: g, yAxisIndex: g, data: medianOf(models),
    symbol: "none", z: 3, lineStyle: { width: 1, color: "#e00000", type: "dotted" },
    itemStyle: { color: "#e00000" },
  });
  return s;
}

function xAxisFor(g: number) {
  return {
    type: "category", gridIndex: g, data: YEARS, boundaryGap: false, z: 5,
    axisLine: { show: true, lineStyle: { color: "#bfbfbf", width: 1 } },
    axisTick: { show: true, interval: 9, length: 3, lineStyle: { color: "#bfbfbf" } },
    axisLabel: { interval: 9, rotate: 90, fontSize: 7, color: "#595959", fontFamily: FONT, margin: 4 },
    splitLine: { show: false },
  };
}
function yAxisFor(g: number, min: number, max: number, interval: number, name: string, gap: number) {
  return {
    type: "value", gridIndex: g, min, max, interval, z: 5,
    name, nameLocation: "middle", nameRotate: 90, nameGap: gap,
    nameTextStyle: { fontSize: 7.5, color: "#595959", fontFamily: FONT, lineHeight: 11 },
    axisLine: { show: true, lineStyle: { color: "#bfbfbf", width: 1 } },
    axisTick: { show: true, length: 3, lineStyle: { color: "#bfbfbf" } },
    axisLabel: {
      fontSize: 7, color: "#595959", fontFamily: FONT, margin: 4,
      formatter: (v: number) => String(v),
    },
    splitLine: { show: false },
  };
}

export default function App() {
  const ref = useRef<HTMLDivElement>(null);
  useEffect(() => {
    document.body.style.margin = "0";
    if (!ref.current) return;
    const chart = echarts.init(ref.current, undefined, { renderer: "svg" });

    const precipModels = [PRECIP_M1, PRECIP_M2, PRECIP_M3, PRECIP_M4, PRECIP_M5, PRECIP_M6, PRECIP_M7, PRECIP_M8, PRECIP_M9, PRECIP_M10, PRECIP_M11];
    const tempModels = [TEMP_M1, TEMP_M2, TEMP_M3, TEMP_M4, TEMP_M5, TEMP_M6, TEMP_M7, TEMP_M8, TEMP_M9, TEMP_M10, TEMP_M11];
    const etModels = [ET_M1, ET_M2, ET_M3, ET_M4, ET_M5, ET_M6, ET_M7, ET_M8, ET_M9, ET_M10, ET_M11];
    const gwModels = [GW_M1, GW_M2, GW_M3, GW_M4, GW_M5, GW_M6, GW_M7, GW_M8, GW_M9, GW_M10, GW_M11];

    const legends: any[] = [];
    LEGEND_ROWS.forEach((row, r) => {
      row.forEach((name, c) => {
        let item: any = { name, itemStyle: { opacity: 0 } };
        if (name === "Upper bound") item = { name, icon: "rect", itemStyle: { color: BAND_COLOR, borderWidth: 0 } };
        if (name === "Lower bound") item = { name, icon: "rect", itemStyle: { color: "#ffffff", borderColor: "#b7cde9", borderWidth: 1 } };
        legends.push({
          left: LEGEND_TEXT_X[c] - 22, top: LEGEND_ROW_Y[r] - 6,
          data: [item], itemWidth: 17, itemHeight: 8, itemGap: 0, padding: 0,
          selectedMode: false,
          textStyle: { fontSize: 8.5, color: "#404040", fontFamily: FONT },
        });
      });
    });

    const titleStyle = { fontSize: 8, fill: "#404040", fontFamily: FONT };
    const letterStyle = { fontSize: 11, fontWeight: "bold", fill: "#000", fontFamily: '"Liberation Sans", Arial, sans-serif' };
    const mk = (x: number, y: number, text: string, st: any, align = "center") => ({
      type: "text", x, y, style: { text, textAlign: align, textVerticalAlign: "middle", ...st }, z: 10,
    });

    chart.setOption({
      animation: false,
      backgroundColor: "#ffffff",
      textStyle: { fontFamily: FONT },
      grid: [
        { left: 41, top: 24, width: 229, height: 94 },
        { left: 306, top: 24, width: 236, height: 94 },
        { left: 49, top: 162, width: 221, height: 95 },
        { left: 316, top: 162, width: 228, height: 96 },
      ],
      xAxis: [xAxisFor(0), xAxisFor(1), xAxisFor(2), xAxisFor(3)],
      yAxis: [
        yAxisFor(0, 0, 1600, 200, "Annual Precipitation (mm)", 23),
        yAxisFor(1, 5, 30, 5, "Annual Temperature (°C)", 15),
        yAxisFor(2, 0, 1200, 200, "UTHBAL (Actual\nEvapotranspiration)  (mm)", 19),
        yAxisFor(3, 0, 450, 50, "UTHBAL (Groundwater Recharge)\n(mm)", 18),
      ],
      legend: legends,
      series: [
        ...panelSeries(0, PRECIP_UPPER, PRECIP_LOWER, precipModels),
        ...panelSeries(1, TEMP_UPPER, TEMP_LOWER, tempModels),
        ...panelSeries(2, ET_UPPER, ET_LOWER, etModels),
        ...panelSeries(3, GW_UPPER, GW_LOWER, gwModels),
      ],
      graphic: [
        mk(141, 13, "Annual Areal Precipitation– RCP8.5 – Almyros Watershed", titleStyle),
        mk(411, 13, "Annual Areal Temperature– RCP8.5 – Almyros Watershed", titleStyle),
        mk(141, 149, "Annual Actual Evapotranspiration– RCP8.5 – Almyros Watershed", titleStyle),
        mk(412, 149, "Annual Groundwater Recharge– RCP8.5 – Almyros Watershed", titleStyle),
        mk(7, 13, "a", letterStyle, "left"),
        mk(280, 13, "b", letterStyle, "left"),
        mk(7, 150, "c", letterStyle, "left"),
        mk(279, 150, "d", letterStyle, "left"),
        {
          type: "rect", shape: { x: 8.5, y: 277.5, width: 537, height: 40 }, z: 0,
          style: { fill: "none", stroke: "#d9d9d9", lineWidth: 1 },
        },
        {
          type: "line", shape: { x1: 276.5, y1: 140, x2: 276.5, y2: 277 }, z: 0,
          style: { stroke: "#e3e3e3", lineWidth: 1 },
        },
      ],
    });
    return () => chart.dispose();
  }, []);
  return <div ref={ref} style={{ width: 550, height: 320, position: "absolute", left: 0, top: 0 }} />;
}
